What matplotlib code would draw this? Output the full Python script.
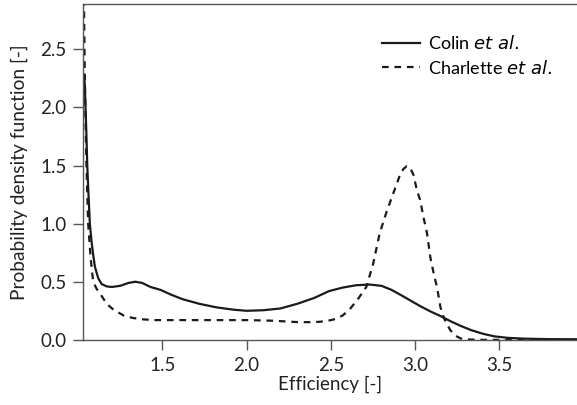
import matplotlib
matplotlib.use("Agg")
import matplotlib.pyplot as plt

colin_x = [1.035, 1.04, 1.05, 1.055, 1.06, 1.07, 1.08, 1.09, 1.10, 1.12, 1.14, 1.17, 1.20,
           1.25, 1.30, 1.34, 1.38, 1.43, 1.49, 1.55, 1.62, 1.72, 1.82, 1.92, 2.00, 2.10,
           2.20, 2.30, 2.40, 2.49, 2.57, 2.65, 2.73, 2.80, 2.86, 2.91, 2.97, 3.03, 3.09,
           3.15, 3.21, 3.27, 3.33, 3.40, 3.47, 3.55, 3.65, 3.80, 3.97]
colin_y = [2.28, 2.20, 1.75, 1.49, 1.32, 1.00, 0.85, 0.73, 0.63, 0.53, 0.48, 0.46, 0.455,
           0.465, 0.49, 0.50, 0.49, 0.455, 0.43, 0.39, 0.35, 0.31, 0.28, 0.26, 0.25, 0.255,
           0.27, 0.31, 0.36, 0.42, 0.45, 0.47, 0.476, 0.465, 0.43, 0.39, 0.34, 0.29, 0.245,
           0.205, 0.16, 0.12, 0.085, 0.053, 0.03, 0.017, 0.01, 0.006, 0.005]

charlette_x = [1.033, 1.036, 1.040, 1.045, 1.05, 1.06, 1.075, 1.09, 1.11, 1.13, 1.17, 1.21,
               1.27, 1.32, 1.37, 1.45, 1.60, 1.80, 2.00, 2.15, 2.30, 2.40, 2.47, 2.53, 2.57,
               2.61, 2.66, 2.71, 2.75, 2.79, 2.83, 2.87, 2.91, 2.93, 2.95, 2.97, 2.99, 3.01,
               3.03, 3.05, 3.07, 3.09, 3.11, 3.13, 3.15, 3.17, 3.19, 3.21, 3.24, 3.27, 3.32,
               3.40, 3.60, 3.97]
charlette_y = [3.20, 2.80, 2.30, 1.85, 1.50, 1.00, 0.70, 0.50, 0.44, 0.40, 0.31, 0.26,
               0.21, 0.19, 0.178, 0.17, 0.17, 0.17, 0.17, 0.165, 0.153, 0.152, 0.16, 0.18, 0.21,
               0.26, 0.35, 0.455, 0.65, 0.92, 1.10, 1.26, 1.42, 1.47, 1.495, 1.48, 1.42, 1.29,
               1.20, 1.05, 0.92, 0.71, 0.57, 0.45, 0.28, 0.19, 0.13, 0.08, 0.035, 0.012, 0.003,
               0.0, 0.0, 0.0]

x_ticks = [1.5, 2.0, 2.5, 3.0, 3.5]
y_ticks = [0.0, 0.5, 1.0, 1.5, 2.0, 2.5]

plt.rcParams['font.family'] = ['Lato', 'DejaVu Sans']

fig = plt.figure(figsize=(5.77, 4.05), dpi=100)
ax = fig.add_axes([0.144, 0.16, 0.856, 0.83])

ax.plot(colin_x, colin_y, color='#1a1a1a', lw=1.6, label='Colin $\\it{et\\ al.}$')
ax.plot(charlette_x, charlette_y, color='#1a1a1a', lw=1.6, linestyle=(0, (3, 2.6)),
        label='Charlette $\\it{et\\ al.}$')

ax.set_xlim(1.03, 3.96)
ax.set_ylim(-0.003, 2.89)
ax.set_xticks(x_ticks)
ax.set_yticks(y_ticks)
ax.set_xticklabels([f"{v:.1f}" for v in x_ticks])
ax.set_yticklabels([f"{v:.1f}" for v in y_ticks])

spine_col = '#555555'
for s in ['left', 'bottom', 'top']:
    ax.spines[s].set_color(spine_col)
    ax.spines[s].set_linewidth(1.0)
ax.spines['right'].set_visible(False)

ax.tick_params(axis='both', direction='out', length=7, width=1, color=spine_col,
               labelsize=13.5, labelcolor='#222222', pad=5)
ax.set_xlabel('Efficiency [-]', fontsize=13.5, color='#222222', labelpad=1)
ax.set_ylabel('Probability density function [-]', fontsize=13.8, color='#222222', labelpad=9)

ax.legend(loc='upper left', frameon=False, fontsize=13, handlelength=2.1,
          bbox_to_anchor=(0.605, 0.91), borderaxespad=0, borderpad=0,
          labelspacing=0.35, handletextpad=0.45)

fig.savefig('out.png', dpi=100)
